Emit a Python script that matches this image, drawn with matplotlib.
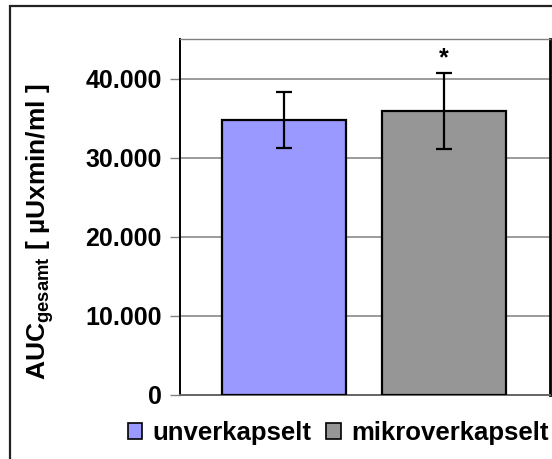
import matplotlib
matplotlib.use("Agg")
import matplotlib.pyplot as plt
from matplotlib.patches import Patch, Rectangle

plt.rcParams['font.family'] = ['Liberation Sans', 'DejaVu Sans']
plt.rcParams['font.weight'] = 'bold'
plt.rcParams['mathtext.default'] = 'regular'

# data
groups = ['unverkapselt', 'mikroverkapselt']
auc = [34800, 35900]
auc_err = [3550, 4800]
bar_colors = ['#9999FF', '#969696']
y_ticks = [0, 10000, 20000, 30000, 40000]
y_tick_labels = ['0', '10.000', '20.000', '30.000', '40.000']
marks = ['', '*']

W, H = 552, 459
fig = plt.figure(figsize=(W / 100, H / 100), dpi=100)

# outer chart frame (cut off at right and bottom)
fig.add_artist(Rectangle((10 / W, -0.05), 1.2, 1.05 - 6 / H, transform=fig.transFigure,
                         fill=False, edgecolor='#222222', lw=1.6))

ax = fig.add_axes([180 / W, 1 - 395 / H, 370 / W, 356 / H])
x = range(len(groups))
ax.bar(x, auc, width=0.775, color=bar_colors, edgecolor='black', linewidth=1.6, zorder=3)
ax.errorbar(x, auc, yerr=auc_err, fmt='none', ecolor='black', elinewidth=1.6,
            capsize=5.5, capthick=1.6, zorder=4)
for xi, v, e, m in zip(x, auc, auc_err, marks):
    if m:
        ax.text(xi, v + e + 400, m, ha='center', va='bottom', fontsize=18, fontweight='bold')

ax.set_xlim(-0.65, 1.6625)
ax.set_ylim(0, 45000)
ax.set_yticks(y_ticks)
ax.set_yticklabels(y_tick_labels)
ax.set_xticks([])
ax.yaxis.grid(True, color='#808080', linewidth=1.1, zorder=0)
ax.tick_params(axis='y', length=7, width=1, color='#808080', labelsize=18, pad=6)
for lab in ax.get_yticklabels():
    lab.set_fontweight('bold')
ax.spines['left'].set_color('black')
ax.spines['left'].set_linewidth(1.4)
ax.spines['bottom'].set_color('#666666')
ax.spines['bottom'].set_linewidth(1.4)
ax.spines['top'].set_color('#808080')
ax.spines['top'].set_linewidth(1)
ax.spines['right'].set_color('black')
ax.spines['right'].set_linewidth(2)

fig.text(40 / W, 1 - 232 / H, 'AUC$_{gesamt}$ [ µUxmin/ml ]', rotation=90,
         ha='center', va='center', fontsize=19, fontweight='bold')

handles = [Patch(facecolor=c, edgecolor='black', linewidth=1.2) for c in bar_colors]
fig.legend(handles, groups, loc='center', bbox_to_anchor=(338 / W, 1 - 433 / H), ncol=2,
           frameon=False, fontsize=18.5, handlelength=0.55, handleheight=0.55,
           handletextpad=0.4, columnspacing=0.6, borderpad=0, borderaxespad=0)

fig.savefig('out.png', dpi=100)
